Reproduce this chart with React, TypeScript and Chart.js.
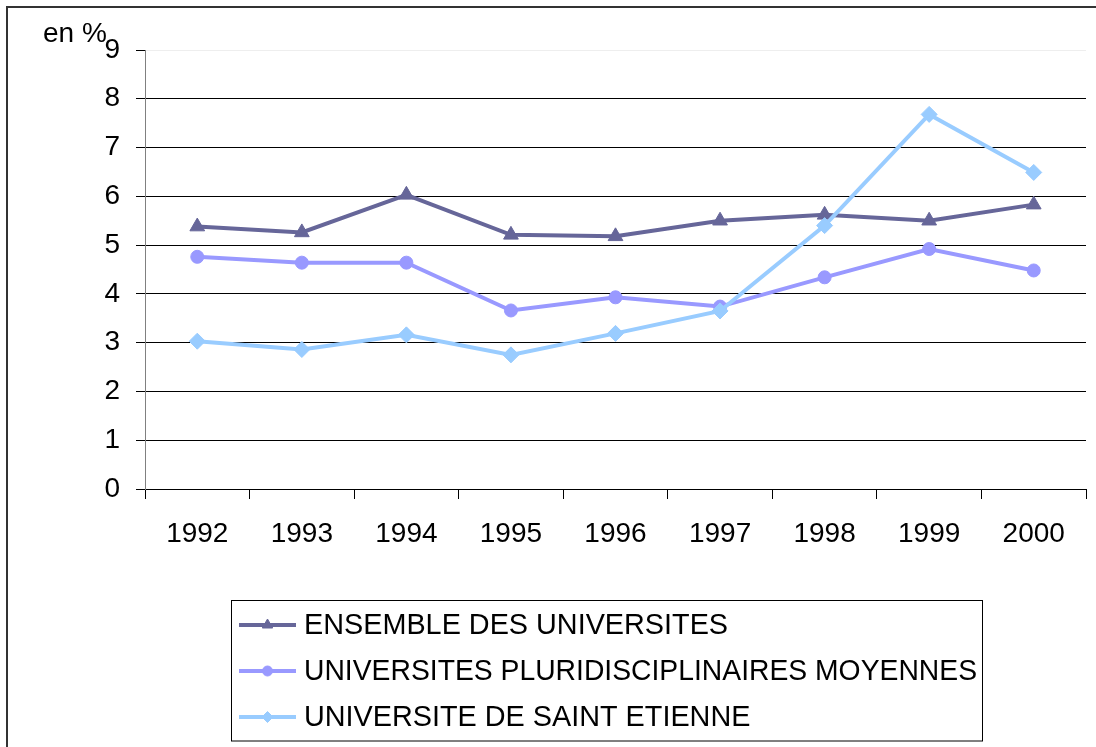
import React, { useEffect, useRef } from "react";
import { Chart, registerables } from "chart.js";
import { drawPoint } from "chart.js/helpers";

Chart.register(...registerables);

const years = ["1992", "1993", "1994", "1995", "1996", "1997", "1998", "1999", "2000"];
const ensemble = [5.38, 5.26, 6.03, 5.21, 5.18, 5.5, 5.62, 5.5, 5.83];
const pluri = [4.76, 4.64, 4.64, 3.66, 3.93, 3.74, 4.34, 4.92, 4.48];
const saintEtienne = [3.03, 2.86, 3.16, 2.75, 3.19, 3.65, 5.4, 7.68, 6.49];
const seriesLabels = [
  "ENSEMBLE DES UNIVERSITES",
  "UNIVERSITES PLURIDISCIPLINAIRES MOYENNES",
  "UNIVERSITE DE SAINT ETIENNE",
];
const yTicks = [0, 1, 2, 3, 4, 5, 6, 7, 8, 9];
const unitLabel = "en %";

const FONT = "'Liberation Sans', Arial, sans-serif";

const framePlugin = {
  id: "frame",
  beforeDraw(chart: any) {
    const ctx = chart.ctx;
    ctx.save();
    ctx.fillStyle = "#ffffff";
    ctx.fillRect(0, 0, chart.width, chart.height);
    ctx.strokeStyle = "#333333";
    ctx.lineWidth = 2;
    ctx.strokeRect(7, 7, chart.width + 50, chart.height + 50);
    ctx.restore();
  },
  afterDraw(chart: any) {
    const ctx = chart.ctx;
    ctx.save();
    ctx.fillStyle = "#000";
    ctx.font = `28px ${FONT}`;
    ctx.textAlign = "left";
    ctx.textBaseline = "alphabetic";
    ctx.fillText(unitLabel, 43, 42);

    // legend box
    const bx = 231.5, by = 600.5, bw = 751, bh = 140.5;
    ctx.strokeStyle = "#000";
    ctx.lineWidth = 1;
    ctx.strokeRect(bx, by, bw, bh);
    const rows = [625, 671, 717];
    const legendRadius = [6, 5, 5.5];
    chart.data.datasets.forEach((ds: any, i: number) => {
      const y = rows[i];
      ctx.strokeStyle = ds.borderColor;
      ctx.lineWidth = 4;
      ctx.beginPath();
      ctx.moveTo(239, y);
      ctx.lineTo(296, y);
      ctx.stroke();
      ctx.fillStyle = ds.pointBackgroundColor;
      ctx.strokeStyle = ds.pointBorderColor;
      ctx.lineWidth = 1;
      drawPoint(ctx, { pointStyle: ds.pointStyle, radius: legendRadius[i], rotation: 0, borderWidth: 1 }, 267.5, y);
      ctx.fillStyle = "#000";
      ctx.font = `28.8px ${FONT}`;
      ctx.textBaseline = "middle";
      ctx.textAlign = "left";
      ctx.fillText(ds.label, 304, y + 1, 673);
    });
    ctx.restore();
  },
};

export default function App() {
  const ref = useRef<HTMLCanvasElement | null>(null);
  useEffect(() => {
    if (!ref.current) return;
    const mk = (label: string, data: number[], color: string, style: string, r: number, order: number) => ({
      label,
      data,
      borderColor: color,
      backgroundColor: color,
      pointBackgroundColor: color,
      pointBorderColor: color,
      pointStyle: style,
      pointRadius: r,
      pointHoverRadius: r,
      pointBorderWidth: 1,
      borderWidth: 4,
      tension: 0,
      order,
    });
    const chart = new Chart(ref.current, {
      type: "line",
      data: {
        labels: years,
        datasets: [
          mk(seriesLabels[0], ensemble, "#666699", "triangle", 8.5, 3),
          mk(seriesLabels[1], pluri, "#9999FF", "circle", 6.5, 2),
          mk(seriesLabels[2], saintEtienne, "#99CCFF", "rectRot", 8, 1),
        ],
      },
      options: {
        responsive: false,
        animation: false,
        layout: { padding: { top: 50, left: 0, right: 10, bottom: 198 } },
        plugins: { legend: { display: false }, tooltip: { enabled: false } },
        scales: {
          x: {
            type: "category",
            offset: true,
            grid: {
              offset: true,
              drawOnChartArea: false,
              drawTicks: true,
              tickLength: 10,
              color: "#000",
            },
            border: { color: "#000", width: 1 },
            ticks: { color: "#000", font: { family: FONT, size: 28 }, padding: 18, maxRotation: 0 },
            afterFit: (s: any) => {
              s.height = 60;
            },
          },
          y: {
            min: 0,
            max: 9,
            afterBuildTicks: (s: any) => {
              s.ticks = yTicks.map((v) => ({ value: v }));
            },
            grid: {
              color: (c: any) => (c.tick && c.tick.value === 9 ? "#eeeeee" : "#000000"),
              tickColor: "#000",
              tickLength: 9,
              lineWidth: 1,
            },
            border: { color: "#808080", width: 1 },
            ticks: { color: "#000", font: { family: FONT, size: 28 }, padding: 16 },
            afterFit: (s: any) => {
              s.width = 145;
            },
          },
        },
      },
      plugins: [framePlugin],
    });
    return () => chart.destroy();
  }, []);
  return (
    <div style={{ position: "absolute", left: 0, top: 0, width: 1096, height: 747 }}>
      <canvas ref={ref} width={1096} height={747} />
    </div>
  );
}
